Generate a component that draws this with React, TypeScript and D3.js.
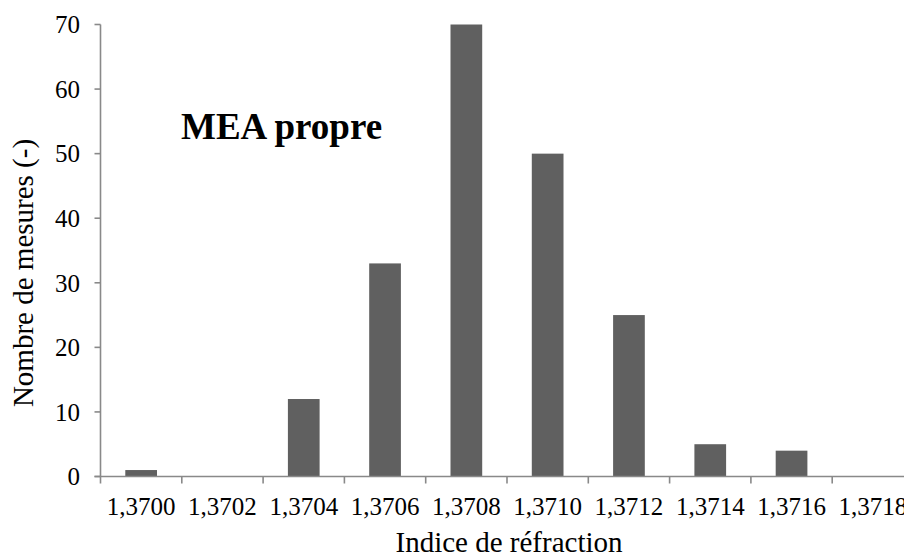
import React from "react";
import * as d3 from "d3";

const categories = ["1,3700", "1,3702", "1,3704", "1,3706", "1,3708", "1,3710", "1,3712", "1,3714", "1,3716", "1,3718"];
const counts = [1, 0, 12, 33, 70, 50, 25, 5, 4, 0];
const yTicks = [0, 10, 20, 30, 40, 50, 60, 70];
const chartTitle = "MEA propre";
const xTitle = "Indice de réfraction";
const yTitle = "Nombre de mesures (-)";

const W = 904;
const H = 555;
const left = 100.5;
const right = 913.5;
const top = 24.5;
const bottom = 476.5;
const axisColor = "#898989";
const barColor = "#606060";
const font = "'Liberation Serif', 'Times New Roman', serif";

export default function App() {
  const x = d3.scaleBand<string>().domain(categories).range([left, right]).paddingInner(0.61).paddingOuter(0.305);
  const y = d3.scaleLinear().domain([0, 70]).range([bottom, top]);
  const step = (right - left) / categories.length;
  const boundaries = d3.range(categories.length + 1).map((i) => left + i * step);

  return (
    <svg width={W} height={H} style={{ position: "absolute", left: 0, top: 0, background: "#fff" }} fontFamily={font}>
      {categories.map((c, i) => (
        <rect key={c} x={x(c)} y={y(counts[i])} width={x.bandwidth()} height={bottom - y(counts[i])} fill={barColor} />
      ))}
      <line x1={left} x2={left} y1={top} y2={bottom} stroke={axisColor} strokeWidth={1.6} />
      {yTicks.map((t) => (
        <g key={t}>
          <line x1={left - 6} x2={left} y1={y(t)} y2={y(t)} stroke={axisColor} strokeWidth={1.6} />
          <text x={80} y={y(t)} dy="0.35em" textAnchor="end" fontSize={25} fill="#000">{t}</text>
        </g>
      ))}
      <line x1={left - 6} x2={right} y1={bottom} y2={bottom} stroke={axisColor} strokeWidth={1.6} />
      {boundaries.map((b, i) => (
        <line key={i} x1={b} x2={b} y1={bottom} y2={bottom + 7} stroke={axisColor} strokeWidth={1.6} />
      ))}
      {categories.map((c) => (
        <text key={c} x={(x(c) as number) + x.bandwidth() / 2} y={515} textAnchor="middle" fontSize={25} fill="#000">{c}</text>
      ))}
      <text x={509} y={552} textAnchor="middle" fontSize={29} fill="#000">{xTitle}</text>
      <text transform="translate(33,273) rotate(-90)" textAnchor="middle" fontSize={29} fill="#000">{yTitle}</text>
      <text x={181} y={139} fontSize={37} fontWeight="bold" fill="#000">{chartTitle}</text>
    </svg>
  );
}
